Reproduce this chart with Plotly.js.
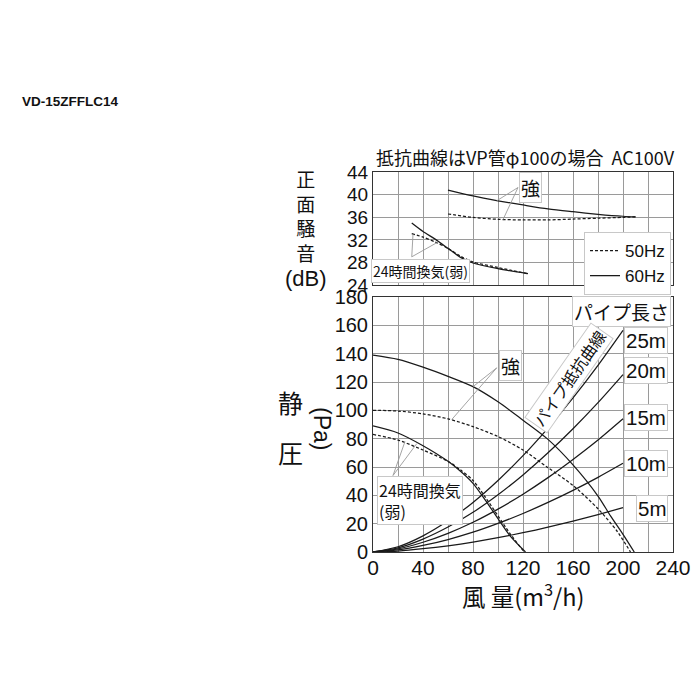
<!DOCTYPE html>
<html><head><meta charset="utf-8">
<script src="https://cdn.plot.ly/plotly-3.0.1.min.js"></script>
<style>body{margin:0;background:#fff}#chart{width:700px;height:700px}</style>
</head><body><div id="chart"></div>
<script>
// ---- data ----
const pipeFlow = [0,20,40,60,80,100,120,140,160,180,200];
const pipe5m  = [0,0.7,2.3,4.4,7.0,10.1,13.6,17.5,21.8,26.4,31.3];
const pipe10m = [0,1.5,4.6,8.8,14.0,20.2,27.2,35.0,43.5,52.7,62.6];
const pipe15m = [0,2.2,6.9,13.2,21.0,30.3,40.8,52.5,65.3,79.0,94.0];
const pipe20m = [0,2.9,9.1,17.6,28.0,40.4,54.4,70.0,87.0,105.4,125.2];
const pipe25m = [0,3.7,11.4,22.0,35.0,50.5,68.0,87.5,108.8,131.8,156.5];
const pipeLabels = ['5m','10m','15m','20m','25m'];

const strong60Flow = [0,20,40,60,80,100,120,140,160,180,190,200,209];
const strong60Pa   = [139,136,130.5,124,116.7,106,93,79.5,61.5,39.5,25.5,12.5,0];
const strong50Flow = [0,20,40,60,80,100,120,140,160,180,195,206];
const strong50Pa   = [100,99.5,97.5,94,88.5,81.5,72,59.5,47,30.5,15,0];
const weak60Flow = [0,20,40,60,70,80,90,100,110,122];
const weak60Pa   = [89,84,75,64,57,48.5,36.5,23.5,11,0];
const weak50Flow = [0,20,40,60,70,80,90,100,110,121];
const weak50Pa   = [83,79,72,64,58,50.5,38.5,25.5,12.5,0];

const strongTopFlow = [60,80,100,120,140,160,180,200,210];
const strongTop60dB = [40.85,39.8,38.95,38.2,37.5,37.0,36.55,36.2,36.1];
const strongTop50dB = [36.6,36.0,35.65,35.55,35.55,35.7,35.85,36.0,36.1];
const weakTopFlow = [31,40,50,60,70,80,100,124];
const weakTop60dB = [35.0,33.5,32.1,30.5,28.9,27.9,26.9,26.0];
const weakTop50dB = [33.1,32.5,31.6,30.5,29.1,28.1,27.1,26.0];

const xTickVals = [0,40,80,120,160,200,240];

// ---- styling ----
const LC = '#1a1a1a';
const DASH = '3px,2px';
const NUM = 'Liberation Sans, Arial, sans-serif';
const JP = 'Noto Sans CJK JP, sans-serif';
const GRID = '#9a9a9a';

function line(x, y, dashed, axes, name, show) {
  return {x: x, y: y, type: 'scatter', mode: 'lines',
    xaxis: axes[0], yaxis: axes[1], name: name || '', showlegend: !!show,
    hoverinfo: 'skip',
    line: {color: LC, width: 1.25, dash: dashed ? DASH : 'solid', shape: 'spline', smoothing: 0.8}};
}
const B = ['x','y'], T = ['x2','y2'];
const pipes = [pipe5m,pipe10m,pipe15m,pipe20m,pipe25m];
const traces = [];
pipes.forEach((p,i) => traces.push(line(pipeFlow, p, false, B, pipeLabels[i], false)));
traces.push(line(strong60Flow, strong60Pa, false, B));
traces.push(line(strong50Flow, strong50Pa, true, B));
traces.push(line(weak60Flow, weak60Pa, false, B));
traces.push(line(weak50Flow, weak50Pa, true, B));
traces.push(line(strongTopFlow, strongTop50dB, true, T, '50Hz', true));
traces.push(line(strongTopFlow, strongTop60dB, false, T, '60Hz', true));
traces.push(line(weakTopFlow, weakTop60dB, false, T));
traces.push(line(weakTopFlow, weakTop50dB, true, T));

// pixel -> paper helpers (plot area: x 373..673, full height)
const L = 373, W = 300, H = 700;
const px = p => (p - L) / W;
const py = p => 1 - p / H;

function ann(text, x, y, o) {
  return Object.assign({text: text, xref: 'paper', yref: 'paper', x: px(x), y: py(y),
    showarrow: false, xanchor: 'center', yanchor: 'middle',
    font: {family: JP, size: 19, color: '#111'}}, o || {});
}
const boxed = {bgcolor: '#fff', bordercolor: '#c8c8c8', borderwidth: 1, borderpad: 1};
const f = (fam, size) => ({family: fam, size: size, color: '#111'});

const annotations = [
  ann('VD-15ZFFLC14', 20, 102, {xanchor: 'left', font: {family: NUM, size: 13.5, color: '#111', weight: 'bold'}}),
  ann('抵抗曲線はVP管φ100の場合  AC100V', 374, 157, {xanchor: 'left', font: f(JP, 18)}),
  ann('正<br>面<br>騒<br>音<br><span style="font-family:Liberation Sans, Arial, sans-serif;font-size:22px">(dB)</span>',
      306, 228, {font: f(JP, 19), align: 'center'}),
  ann('静', 290, 402, {font: f(JP, 25)}),
  ann('(Pa)', 322, 428, {textangle: 90, font: f(NUM, 23)}),
  ann('圧', 290, 452, {font: f(JP, 25)}),
  ann('風 量(m<sup>3</sup>/h)', 523, 595, {font: f(JP, 23.5)}),
  ann('強', 530, 187.5, Object.assign({}, boxed, {font: f(JP, 19)})),
  ann('24時間換気(弱)', 420, 271, Object.assign({}, boxed, {font: f(JP, 14)})),
  ann('強', 510, 365, Object.assign({}, boxed, {font: f(JP, 19)})),
  ann('24時間換気<br>(弱)', 377, 500, Object.assign({}, boxed, {xanchor: 'left', align: 'left', font: f(JP, 16)})),
  ann('パイプ長さ', 572, 311, Object.assign({}, boxed, {xanchor: 'left', font: f(JP, 19)})),
  ann('25m', 668, 340, Object.assign({}, boxed, {xanchor: 'right', font: f(NUM, 20.5)})),
  ann('20m', 668, 370, Object.assign({}, boxed, {xanchor: 'right', font: f(NUM, 20.5)})),
  ann('15m', 668, 417, Object.assign({}, boxed, {xanchor: 'right', font: f(NUM, 20.5)})),
  ann('10m', 668, 463, Object.assign({}, boxed, {xanchor: 'right', font: f(NUM, 20.5)})),
  ann('5m', 668, 508, Object.assign({}, boxed, {xanchor: 'right', font: f(NUM, 20.5)})),
  ann('パイプ抵抗曲線', 569, 378, Object.assign({}, boxed, {textangle: -55, font: f(JP, 16)}))
];

function lead(xr, yr, x0, y0, x1, y1) {
  return {type: 'line', xref: xr, yref: yr, x0: x0, y0: y0, x1: x1, y1: y1,
    line: {color: '#9a9a9a', width: 0.9}};
}
const shapes = [
  lead('x','y', 99, 130, 80, 116.7),
  lead('x','y', 99, 130, 63, 93.5),
  lead('x','y', 16, 54, 25.6, 78),
  lead('x','y', 16, 54, 35, 76.5),
  lead('x2','y2', 116, 41.3, 99, 38.95),
  lead('x2','y2', 116, 41.3, 104, 35.6),
  lead('x2','y2', 31, 29.0, 32, 33.0),
  lead('x2','y2', 31, 29.0, 51, 31.5)
];

const axBase = {range: [0, 240], tickmode: 'array', tickvals: xTickVals,
  showgrid: true, gridcolor: GRID, gridwidth: 1, zeroline: false,
  minor: {dtick: 20, tick0: 0, showgrid: true, gridcolor: GRID, gridwidth: 1, ticks: ''},
  showline: true, mirror: true, linecolor: '#333', linewidth: 1, ticks: '',
  tickfont: f(NUM, 21), fixedrange: true};

const layout = {
  width: 700, height: 700, autosize: false,
  margin: {l: L, r: 700 - L - W, t: 0, b: 0},
  paper_bgcolor: '#fff', plot_bgcolor: '#fff',
  showlegend: true,
  legend: {x: px(584), y: py(232), xanchor: 'left', yanchor: 'top',
    bgcolor: '#fff', bordercolor: '#c8c8c8', borderwidth: 1,
    font: f(NUM, 17), itemwidth: 30, tracegroupgap: 0},
  xaxis: Object.assign({}, axBase, {anchor: 'y', ticklabelstandoff: -3}),
  yaxis: {domain: [1 - 552/700, 1 - 297/700], range: [0, 180], dtick: 20, tick0: 0,
    showgrid: true, gridcolor: GRID, gridwidth: 1, zeroline: false,
    showline: true, mirror: true, linecolor: '#333', linewidth: 1, ticks: '',
    tickfont: f(NUM, 20), anchor: 'x', fixedrange: true},
  xaxis2: Object.assign({}, axBase, {anchor: 'y2', showticklabels: false}),
  yaxis2: {domain: [1 - 285/700, 1 - 172.3/700], range: [24, 44], dtick: 4, tick0: 24,
    showgrid: true, gridcolor: GRID, gridwidth: 1, zeroline: false,
    showline: true, mirror: true, linecolor: '#333', linewidth: 1, ticks: '',
    tickfont: f(NUM, 19), anchor: 'x2', fixedrange: true},
  annotations: annotations,
  shapes: shapes
};

Plotly.newPlot('chart', traces, layout, {staticPlot: true, displayModeBar: false});
</script>
</body></html>
